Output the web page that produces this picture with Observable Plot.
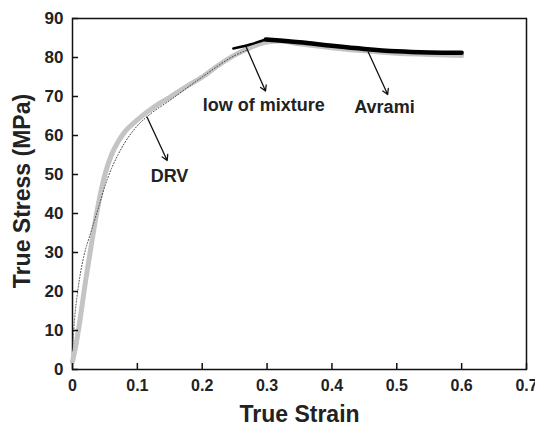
<!DOCTYPE html>
<html>
<head>
<meta charset="utf-8">
<script src="https://cdn.jsdelivr.net/npm/d3@7"></script>
<script src="https://cdn.jsdelivr.net/npm/@observablehq/plot@0.6"></script>
<style>
  html, body { margin: 0; padding: 0; background: #fff; }
</style>
</head>
<body>
<div id="chart"></div>
<script>
// Experimental curve (gray)
const expStrain = [0, 0.005, 0.01, 0.02, 0.03, 0.04, 0.05, 0.06, 0.07, 0.08, 0.1, 0.115, 0.13, 0.15, 0.175, 0.2, 0.225, 0.25, 0.275, 0.3, 0.32, 0.35, 0.4, 0.45, 0.5, 0.55, 0.6];
const expStress = [2, 6, 11, 22.5, 33, 42.5, 50, 55, 58.3, 60.8, 64, 66, 67.8, 69.8, 72.5, 75, 78, 80.6, 82.6, 84, 84.2, 83.5, 82.5, 81.7, 81.1, 80.8, 80.5];

// DRV model (dotted)
const drvStrain = [0, 0.003, 0.008, 0.017, 0.028, 0.04, 0.05, 0.06, 0.07, 0.08, 0.1, 0.12, 0.15, 0.2, 0.25, 0.27];
const drvStress = [5, 12.5, 20, 28.7, 35, 41.5, 47, 51.5, 55, 58, 62.5, 65.5, 69, 75, 80.5, 82];

// Law of mixture (black, short)
const mixStrain = [0.248, 0.275, 0.298];
const mixStress = [82.3, 83.4, 84.6];

// Avrami (black, thick)
const avrStrain = [0.298, 0.35, 0.4, 0.45, 0.5, 0.55, 0.6];
const avrStress = [84.6, 83.9, 83.0, 82.2, 81.6, 81.3, 81.2];

// Annotations
const labelText = ["DRV", "low of mixture", "Avrami"];
const labelStrain = [0.1496, 0.295, 0.481];
const labelStress = [49.5, 67.7, 67.2];
const arrowX1 = [0.115, 0.268, 0.456];
const arrowY1 = [64.7, 82.6, 81.4];
const arrowX2 = [0.146, 0.2976, 0.486];
const arrowY2 = [53.6, 71.4, 70.5];

const xTicks = [0, 0.1, 0.2, 0.3, 0.4, 0.5, 0.6, 0.7];
const yTicks = [0, 10, 20, 30, 40, 50, 60, 70, 80, 90];

const table = (xs, ys) => xs.map((x, i) => ({x, y: ys[i]}));

const W = 535, H = 426, ML = 72, MR = 9, MT = 18, MB = 57, TICK = 6;

const chart = Plot.plot({
  width: W,
  height: H,
  marginLeft: ML,
  marginRight: MR,
  marginTop: MT,
  marginBottom: MB,
  style: {fontFamily: "'Liberation Sans', Arial, sans-serif", fontWeight: "bold", fontSize: "16px", color: "#222", background: "#fff"},
  x: {domain: [0, 0.7], label: null},
  y: {domain: [0, 90], label: null},
  marks: [
    Plot.frame({stroke: "#111", strokeWidth: 1.5}),
    Plot.line(table(expStrain, expStress), {x: "x", y: "y", stroke: "#c4c4c4", strokeWidth: 5, curve: "monotone-x"}),
    Plot.line(table(drvStrain, drvStress), {x: "x", y: "y", stroke: "#444", strokeWidth: 1, strokeDasharray: "1,2", curve: "monotone-x"}),
    Plot.line(table(mixStrain, mixStress), {x: "x", y: "y", stroke: "#000", strokeWidth: 2.5, curve: "monotone-x"}),
    Plot.line(table(avrStrain, avrStress), {x: "x", y: "y", stroke: "#000", strokeWidth: 4.5, curve: "monotone-x"}),
    // inward tick marks (outward ticks shifted into the frame)
    Plot.axisX({ticks: xTicks, tickSize: TICK, dy: -TICK, tickFormat: () => "", stroke: "#111", strokeWidth: 1.5, label: null}),
    Plot.axisY({ticks: yTicks, tickSize: TICK, dx: TICK, tickFormat: () => "", stroke: "#111", strokeWidth: 1.5, label: null}),
    Plot.axisX({ticks: xTicks, tickSize: 0, tickPadding: 10, tickFormat: d => String(d), fontSize: 16, fill: "#222", label: null}),
    Plot.axisY({ticks: yTicks, tickSize: 0, tickPadding: 9, tickFormat: d => String(d), fontSize: 17, fill: "#222", label: null}),
    Plot.arrow(arrowX1.map((d, i) => i), {
      x1: i => arrowX1[i], y1: i => arrowY1[i], x2: i => arrowX2[i], y2: i => arrowY2[i],
      stroke: "#111", strokeWidth: 1.3, headLength: 7
    }),
    Plot.text(labelText.map((d, i) => i), {
      x: i => labelStrain[i], y: i => labelStress[i], text: i => labelText[i],
      fontSize: 18, fontWeight: "bold", fill: "#222"
    }),
    Plot.text(["True Strain"], {frameAnchor: "bottom", dy: 45, lineAnchor: "middle", textAnchor: "middle", fontSize: 23, fontWeight: "bold", fill: "#222"}),
    Plot.text(["True Stress (MPa)"], {frameAnchor: "left", dx: -50, dy: -3, rotate: -90, lineAnchor: "middle", textAnchor: "middle", fontSize: 23, fontWeight: "bold", fill: "#222"})
  ]
});
document.getElementById("chart").appendChild(chart);
</script>
</body>
</html>
